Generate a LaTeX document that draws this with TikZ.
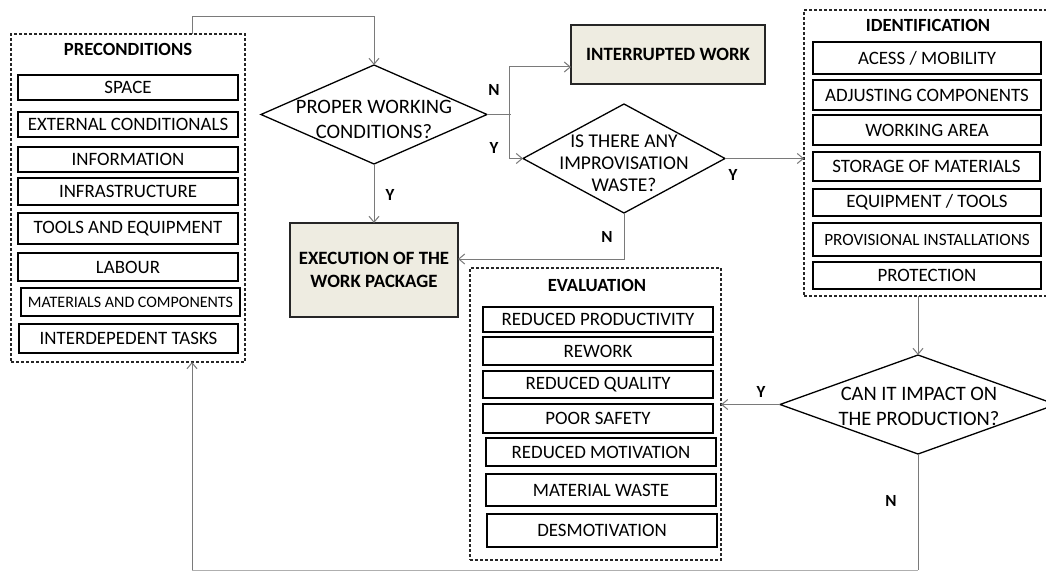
\documentclass[tikz,border=0pt]{standalone}
\usepackage{fontspec}
\setmainfont{Carlito}
\usetikzlibrary{shapes.geometric,arrows.meta}
\definecolor{beige}{HTML}{EEECE1}
\definecolor{lnk}{HTML}{7A7A7A}
\begin{document}
\begin{tikzpicture}[x=1pt,y=-1pt,
  every node/.style={inner sep=0pt,outer sep=0pt},
  itembox/.style={draw=black,line width=1.2pt,rectangle,align=center,font=\fontsize{18.9}{22}\selectfont},
  smallitem/.style={itembox,font=\fontsize{16}{18}\selectfont},
  group/.style={draw=black!85,line width=1.1pt,dash pattern=on 3pt off 2pt,rectangle},
  grouptitle/.style={font=\bfseries\fontsize{18.6}{22}\selectfont},
  process/.style={draw=black!85,line width=1.3pt,fill=beige,rectangle,align=center,font=\bfseries\fontsize{18.8}{23}\selectfont},
  decision/.style={draw=black,line width=1.3pt,diamond,fill=white},
  dtext/.style={align=center,font=\fontsize{20.5}{25}\selectfont},
  conn/.style={draw=lnk,line width=1pt},
  arr/.style={conn,-{Straight Barb[length=6pt,width=10pt]}},
  lab/.style={font=\bfseries\fontsize{17}{20}\selectfont}
]
\useasboundingbox (0,0) rectangle (1046,572);
\clip (0,0) rectangle (1046,572);
\fill[white] (0,0) rectangle (1046,572);

% PRECONDITIONS
\node[group,minimum width=234,minimum height=328] (pre) at (128,198) {};
\node[grouptitle] (pret) at (128,49) {PRECONDITIONS};
\node[itembox,minimum width=220,minimum height=25] (p1) at (128,87.5) {SPACE};
\node[itembox,minimum width=220,minimum height=25] (p2) at (128,124.5) {EXTERNAL CONDITIONALS};
\node[itembox,minimum width=220,minimum height=25] (p3) at (128,159.5) {INFORMATION};
\node[itembox,minimum width=220,minimum height=27] (p4) at (128,191.5) {INFRASTRUCTURE};
\node[itembox,minimum width=220,minimum height=31] (p5) at (128,228.5) {TOOLS AND EQUIPMENT};
\node[itembox,minimum width=220,minimum height=28] (p6) at (128,267) {LABOUR};
\node[smallitem,minimum width=219,minimum height=28] (p7) at (130.5,302) {MATERIALS AND COMPONENTS};
\node[itembox,minimum width=219,minimum height=29] (p8) at (128.5,338.5) {INTERDEPEDENT TASKS};

% IDENTIFICATION
\node[group,minimum width=246,minimum height=286] (ident) at (927,153) {};
\node[grouptitle] (identt) at (928,25) {IDENTIFICATION};
\node[itembox,minimum width=228,minimum height=32] (i1) at (927,58) {ACESS / MOBILITY};
\node[itembox,minimum width=228,minimum height=30] (i2) at (927,95) {ADJUSTING COMPONENTS};
\node[itembox,minimum width=228,minimum height=30] (i3) at (927,130) {WORKING AREA};
\node[itembox,minimum width=227,minimum height=29] (i4) at (926.5,166.5) {STORAGE OF MATERIALS};
\node[itembox,minimum width=228,minimum height=27] (i5) at (927,202.5) {EQUIPMENT / TOOLS};
\node[smallitem,font=\fontsize{17.2}{20}\selectfont,minimum width=228,minimum height=33] (i6) at (927,239.5) {PROVISIONAL INSTALLATIONS};
\node[itembox,minimum width=228,minimum height=27] (i7) at (927,275.5) {PROTECTION};

% EVALUATION
\node[group,minimum width=251,minimum height=292] (eval) at (595.5,414) {};
\node[grouptitle] (evalt) at (597,285) {EVALUATION};
\node[itembox,minimum width=230,minimum height=25] (e1) at (598,319.5) {REDUCED PRODUCTIVITY};
\node[itembox,minimum width=230,minimum height=28] (e2) at (598,351) {REWORK};
\node[itembox,minimum width=230,minimum height=27] (e3) at (598,384.5) {REDUCED QUALITY};
\node[itembox,minimum width=230,minimum height=29] (e4) at (598,418.5) {POOR SAFETY};
\node[itembox,minimum width=230,minimum height=28] (e5) at (601,452) {REDUCED MOTIVATION};
\node[itembox,minimum width=230,minimum height=32] (e6) at (601,490) {MATERIAL WASTE};
\node[itembox,minimum width=230,minimum height=33] (e7) at (602,530.5) {DESMOTIVATION};

% process boxes
\node[process,minimum width=194,minimum height=59] (int) at (668,54.5) {INTERRUPTED WORK};
\node[process,minimum width=168,minimum height=94] (exec) at (374,270) {EXECUTION OF THE\\WORK PACKAGE};

% decisions
\node[decision,minimum width=226,minimum height=99] (d1) at (374,114.5) {};
\node[dtext] (d1t) at (374,119) {PROPER WORKING\\CONDITIONS?};
\node[decision,minimum width=202,minimum height=109] (d2) at (624,158.5) {};
\node[dtext,font=\fontsize{19.5}{22}\selectfont] (d2t) at (624,163) {IS THERE ANY\\IMPROVISATION\\WASTE?};
\node[decision,minimum width=276,minimum height=99] (d3) at (918,404.5) {};
\node[dtext] (d3t) at (919,406) {CAN IT IMPACT ON\\THE PRODUCTION?};

% junction coordinates
\coordinate (lt) at (192,17);
\coordinate (rt) at (374,17);
\coordinate (j1) at (509,114.5);
\coordinate (jn) at (509,67);
\coordinate (jy) at (509,158.5);
\coordinate (jx) at (624,259);
\coordinate (br) at (918,570);
\coordinate (bl) at (192,570);

% connectors
\draw[arr] (pre.north -| lt) -- (lt) -- (rt) -- (d1.north);
\draw[arr] (d1.south) -- (exec.north);
\draw[conn] (d1.east) -- ([xshift=1.5pt]j1);
\draw[arr] (j1) -- (jn) -- (int.west |- jn);
\draw[arr] (j1) -- (jy) -- (d2.west);
\draw[arr] (d2.east) -- (ident.west |- d2.east);
\draw[arr] (d2.south) -- (jx) -- (exec.east |- jx);
\draw[arr] (ident.south -| d3.north) -- (d3.north);
\draw[arr] (d3.west) -- (eval.east |- d3.west);
\draw[conn] (d3.south) -- (br);
\draw[conn,draw=lnk!60] (br) -- (bl);
\draw[arr] (bl) -- (pre.south -| bl);

% labels
\node[lab] (ln1) at (494,90) {N};
\node[lab] (ly1) at (494,148) {Y};
\node[lab] (ly2) at (390,195) {Y};
\node[lab] (ly3) at (733,175) {Y};
\node[lab] (ln2) at (607,237) {N};
\node[lab] (ly4) at (761,392) {Y};
\node[lab] (ln3) at (891,501) {N};
\end{tikzpicture}
\end{document}
